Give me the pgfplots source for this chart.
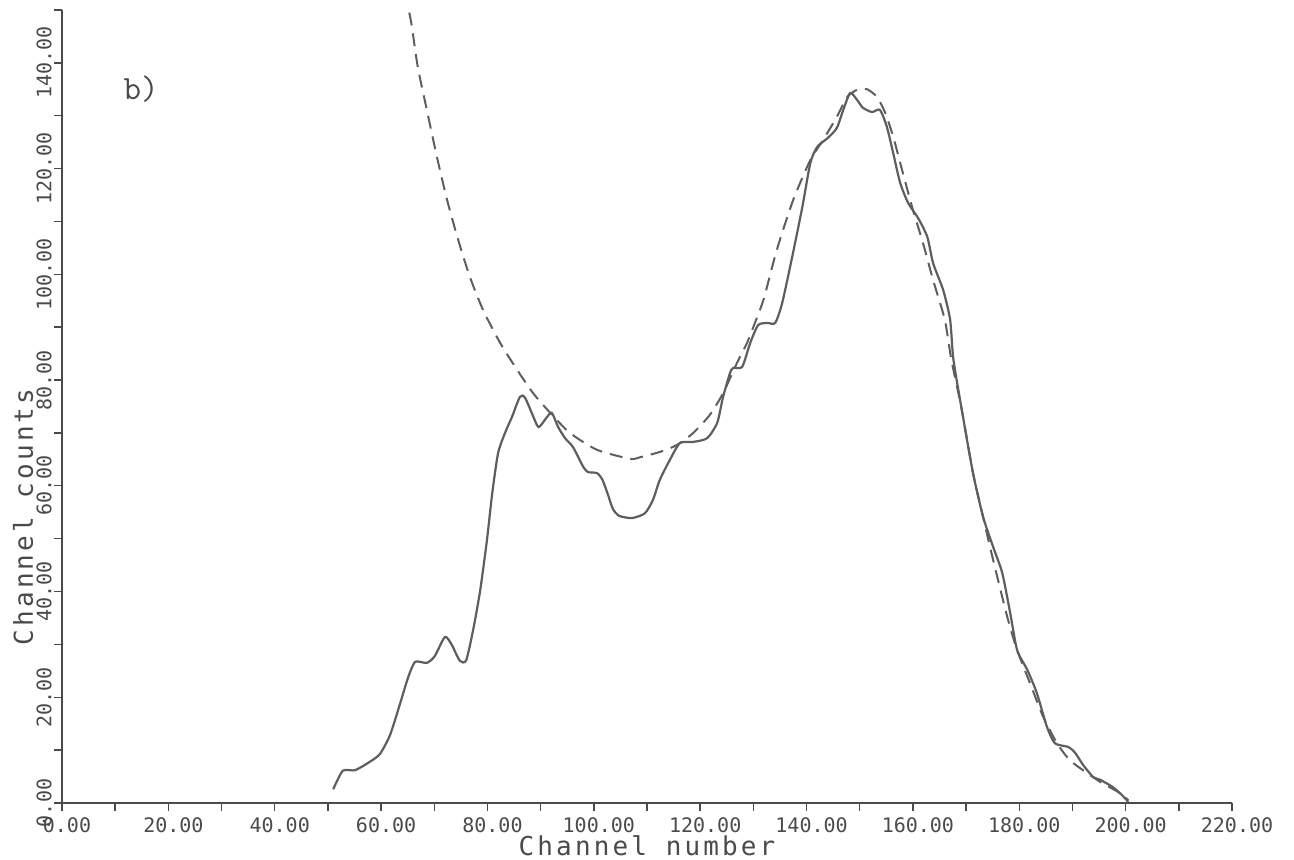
\documentclass[border=0pt]{standalone}
\usepackage{fontspec}
\usepackage{pgfplots}
\pgfplotsset{compat=1.18}
\newfontfamily\plotfont{DejaVu Sans Mono}
\newfontfamily\labelfont[LetterSpace=12]{DejaVu Sans Mono}
\definecolor{ink}{HTML}{4A4A4A}
\definecolor{curve}{HTML}{5E5E5E}

% measured spectrum
\pgfplotstableread{
x y
51.0 2.6
52.8 6.1
55.1 6.2
57.9 7.8
59.8 9.3
61.7 12.9
63.6 18.9
65.1 23.8
66.4 26.7
68.6 26.5
70.1 27.8
72.0 31.4
73.3 29.9
74.8 26.9
76.0 27.0
77.3 32.7
78.6 40.0
79.9 49.7
80.9 58.6
82.0 66.2
83.3 70.0
84.6 73.0
86.1 76.8
87.1 76.6
89.3 71.5
89.9 71.3
91.2 73.0
92.1 73.8
93.3 71.1
94.6 69.0
96.1 67.3
98.0 63.6
98.9 62.6
100.6 62.4
101.6 61.2
102.6 58.5
103.6 55.6
104.8 54.3
107.2 53.9
109.6 54.8
111.1 57.3
112.4 61.1
114.3 64.9
116.2 68.1
118.7 68.3
121.3 69.0
123.2 71.9
124.3 76.8
125.6 81.3
126.2 82.3
127.9 82.5
129.4 87.0
130.9 90.4
132.6 90.8
134.1 90.8
135.4 94.5
137.3 103.3
139.2 112.7
140.7 121.0
142.0 124.1
144.0 125.8
145.7 127.7
146.9 131.1
148.2 134.3
149.5 133.0
150.6 131.5
152.3 130.7
153.8 131.1
155.1 127.9
156.3 122.9
157.6 117.3
159.1 113.5
161.0 110.6
162.7 107.1
163.8 102.1
165.7 97.0
167.0 91.4
167.6 84.0
169.2 74.3
171.3 62.4
173.2 54.1
175.1 48.4
176.8 43.5
178.3 35.9
179.6 28.9
181.5 25.2
183.3 20.8
185.2 14.4
186.7 11.3
189.2 10.6
190.5 9.5
192.0 7.2
193.9 4.9
195.2 4.4
197.6 3.0
199.3 1.5
200.5 0.2
}\measured

% fitted curve
\pgfplotstableread{
x y
65.3 149.5
65.8 146.8
66.9 139.2
68.6 131.1
70.5 122.2
72.4 114.1
74.5 106.5
76.7 99.5
79.2 93.2
82.4 87.0
85.6 81.9
88.6 77.5
91.8 73.8
95.5 70.0
100.6 66.8
106.8 65.1
108.7 65.4
112.4 66.4
115.6 67.7
118.7 70.0
121.8 73.4
124.3 77.5
126.9 83.2
128.8 87.0
130.7 91.9
132.0 95.5
134.4 104.6
137.5 114.1
140.7 121.6
143.1 125.4
145.7 129.8
147.6 133.5
149.5 134.9
151.4 135.0
153.3 133.5
154.8 130.5
156.3 126.0
158.1 119.2
160.0 112.2
161.9 105.9
163.8 98.9
166.0 91.4
167.2 84.0
169.2 74.3
171.3 62.4
173.2 54.1
174.5 48.4
176.0 42.2
177.9 34.6
179.6 28.9
182.0 22.7
184.5 16.3
187.1 11.3
189.5 8.1
192.7 5.7
195.2 4.0
198.9 1.9
200.5 0.5
}\fitted

\begin{document}
\begin{tikzpicture}
\begin{axis}[
    scale only axis,
    width=585pt, height=396.5pt,
    xmin=0, xmax=220, ymin=0, ymax=150,
    clip=false,
    axis lines*=left,
    axis line style={draw=ink, line width=0.7pt},
    xtick={0,20,...,220}, ytick={0,20,...,140},
    minor xtick={10,30,...,210}, minor ytick={10,30,...,150},
    tick align=outside,
    major tick length=4pt, minor tick length=4pt,
    every tick/.style={draw=ink, line width=0.7pt},
    /pgf/number format/fixed,
    /pgf/number format/fixed zerofill,
    /pgf/number format/precision=2,
    /pgf/number format/assume math mode=true,
    xticklabel style={font=\fontsize{10}{12}\plotfont, text=ink, xshift=2.5pt},
    yticklabel style={font=\fontsize{10}{12}\plotfont, text=ink, rotate=90, anchor=south, inner sep=1pt},
    xlabel={Channel number},
    ylabel={Channel counts},
    xlabel style={font=\fontsize{13}{15}\labelfont, text=ink, at={(axis description cs:0.5,-0.0656)}, anchor=base},
    ylabel style={font=\fontsize{13}{15}\labelfont, text=ink, at={(axis description cs:-0.0248,0.3607)}, anchor=base},
]
\addplot[curve, line width=1.1pt, smooth, tension=0.4] table {\measured};
\addplot[curve, line width=1pt, smooth, tension=0.4, dash pattern=on 6.5pt off 4pt] table {\fitted};
\node[font=\fontsize{17}{20}\ttfamily, text=ink, anchor=base] at (axis cs:14.9,133) {b)};
\coordinate (o) at (axis cs:0,0);
\coordinate (t) at (axis cs:220,150);
\end{axis}
\pgfresetboundingbox
\path[use as bounding box] ([xshift=-31pt,yshift=-28.5pt]o) rectangle ([xshift=31pt,yshift=5pt]t);
\end{tikzpicture}
\end{document}
